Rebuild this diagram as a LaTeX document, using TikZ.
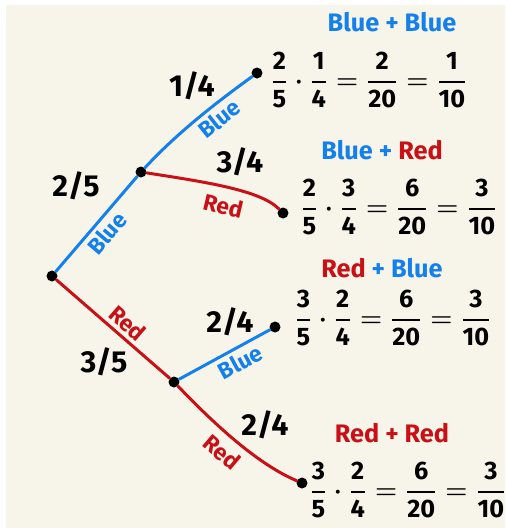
\documentclass[tikz,border=0pt]{standalone}
\usepackage{amsmath}
\usepackage{fontspec}
\setmainfont{Fira Sans}
\usepackage{xcolor}
\usetikzlibrary{positioning}
\definecolor{penblue}{RGB}{20,128,235}
\definecolor{penred}{RGB}{200,16,22}
\definecolor{paper}{RGB}{247,245,234}
\newcommand{\fr}[2]{\genfrac{}{}{1.1pt}{0}{\textbf{#1}}{\textbf{#2}}}

\begin{document}
\begin{tikzpicture}[x=0.02cm,y=-0.02cm,
    dot/.style={circle,fill=black,minimum size=2.2mm,inner sep=0pt},
    bedge/.style={penblue,line width=1.7pt,line cap=round},
    redge/.style={penred,line width=1.7pt,line cap=round},
    pr/.style={font=\LARGE\bfseries},
    tag/.style={font=\fontsize{13}{15}\selectfont\bfseries,inner sep=2pt},
    combo/.style={font=\Large\bfseries},
    eqn/.style={font=\Large\boldmath}]
  % paper
  \useasboundingbox (0,0) rectangle (505,528);
  \fill[white] (0,0) rectangle (505,528);
  \fill[paper] (6,5) rectangle (505,528);
  % tree nodes
  \node[dot] (o) at (52,276) {};
  \node[dot] (b) at (141,172) {};
  \node[dot] (r) at (174,382) {};
  \node[dot] (bb) at (257,73) {};
  \node[dot] (br) at (283,213) {};
  \node[dot] (rb) at (275,327) {};
  \node[dot] (rr) at (302,483) {};
  % branches
  \draw[bedge] (o) -- node[tag,sloped,below,pos=0.5,penblue] (lb) {Blue} (b);
  \draw[redge] (o) -- node[tag,sloped,above,pos=0.55,penred] (lr) {Red} (r);
  \draw[bedge] (b) .. controls (180,130) and (220,100) .. node[tag,sloped,below,pos=0.6,penblue] (lbb) {Blue} (bb);
  \draw[redge] (b) .. controls (205,182) and (260,190) .. node[tag,sloped,below=3pt,pos=0.5,penred] (lbr) {Red} (br);
  \draw[bedge] (r) -- node[tag,sloped,below,pos=0.6,penblue] (lrb) {Blue} (rb);
  \draw[redge] (r) .. controls (220,430) and (260,465) .. node[tag,sloped,below=2pt,pos=0.45,penred] (lrr) {Red} (rr);
  % probabilities
  \node[pr] (p25) at (76,186) {2/5};
  \node[pr] (p14) at (192,86) {1/4};
  \node[pr] (p34) at (240,162) {3/4};
  \node[pr] (p35) at (104,362) {3/5};
  \node[pr] (p24a) at (230,322) {2/4};
  \node[pr] (p24b) at (265,425) {2/4};
  % outcomes
  \node[combo,penblue] (cbb) at (392,22) {Blue + Blue};
  \node[combo] (cbr) at (382,150) {\color{penblue}Blue + \color{penred}Red};
  \node[combo] (crb) at (382,268) {\color{penred}Red \color{penblue}+ Blue};
  \node[combo,penred] (crr) at (392,433) {Red + Red};
  \node[eqn] (ebb) at (369,80) {$\fr{2}{5}\cdot\fr{1}{4}=\fr{2}{20}=\fr{1}{10}$};
  \node[eqn] (ebr) at (399,207) {$\fr{2}{5}\cdot\fr{3}{4}=\fr{6}{20}=\fr{3}{10}$};
  \node[eqn] (erb) at (393,318) {$\fr{3}{5}\cdot\fr{2}{4}=\fr{6}{20}=\fr{3}{10}$};
  \node[eqn] (err) at (408,490) {$\fr{3}{5}\cdot\fr{2}{4}=\fr{6}{20}=\fr{3}{10}$};
\end{tikzpicture}
\end{document}
